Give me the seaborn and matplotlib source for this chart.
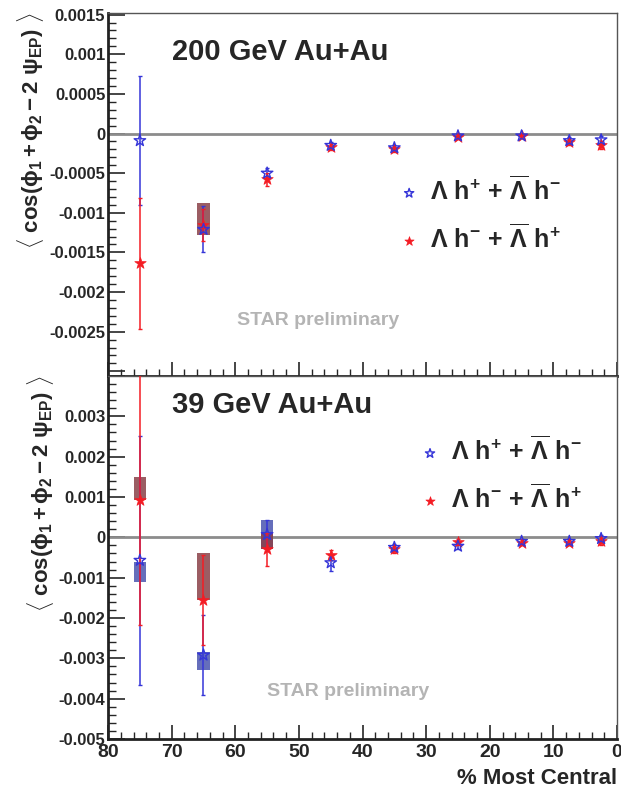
"""Lambda-hadron correlator vs centrality, 200 GeV and 39 GeV Au+Au (STAR preliminary)."""
import numpy as np
import pandas as pd
import matplotlib
matplotlib.use("Agg")
import matplotlib.pyplot as plt
import seaborn as sns
from matplotlib.ticker import MultipleLocator, FuncFormatter

# ---- data ----
centrality = [75, 65, 55, 45, 35, 25, 15, 7.5, 2.5]

top_os_y = [-0.00009, -0.00121, -0.00050, -0.00015, -0.00018, -0.00003, -0.00003, -0.00009, -0.00008]
top_os_err = [0.00081, 0.00029, 0.00007, 0.00004, 0.00003, 0.00003, 0.00003, 0.00004, 0.00005]
top_ss_y = [-0.00164, -0.00115, -0.00058, -0.00017, -0.00020, -0.00004, -0.00003, -0.00011, -0.00014]
top_ss_err = [0.00083, 0.00020, 0.00008, 0.00004, 0.00003, 0.00003, 0.00003, 0.00004, 0.00005]

bot_os_y = [-0.00057, -0.00292, 0.00007, -0.00063, -0.00025, -0.00022, -0.00010, -0.00010, -0.00003]
bot_os_err = [0.00309, 0.00100, 0.00035, 0.00020, 0.00008, 0.00008, 0.00007, 0.00007, 0.00008]
bot_ss_y = [0.00093, -0.00155, -0.00030, -0.00043, -0.00030, -0.00012, -0.00013, -0.00013, -0.00010]
bot_ss_err = [0.00310, 0.00111, 0.00040, 0.00012, 0.00008, 0.00008, 0.00007, 0.00007, 0.00008]

# systematic boxes: centre, low edge, high edge
top_ss_box_x = [65]
top_ss_box_lo = [-0.00128]
top_ss_box_hi = [-0.00088]
top_os_box_x = []
top_os_box_lo = []
top_os_box_hi = []

bot_os_box_x = [75, 65, 55]
bot_os_box_lo = [-0.00111, -0.00328, -0.00030]
bot_os_box_hi = [-0.00060, -0.00285, 0.00044]
bot_ss_box_x = [75, 65, 55]
bot_ss_box_lo = [0.00093, -0.00155, -0.00028]
bot_ss_box_hi = [0.00150, -0.00038, 0.00010]

OS_LABEL = r"$\mathbf{\Lambda\ h^{+}\,+\,\overline{\Lambda}\ h^{-}}$"
SS_LABEL = r"$\mathbf{\Lambda\ h^{-}\,+\,\overline{\Lambda}\ h^{+}}$"
YLABEL = r"$\mathbf{\langle\ cos(\phi_{1} + \phi_{2} - 2\ \psi_{EP})\ \rangle}$"

BLUE = "#3535d8"
RED = "#f41c24"
BLUE_BOX = "#4a55b0"
RED_BOX = "#8a4048"

sns.set_theme(style="ticks")
plt.rcParams["font.family"] = ["Liberation Sans", "DejaVu Sans"]
plt.rcParams["mathtext.fontset"] = "custom"
plt.rcParams["mathtext.rm"] = "Liberation Sans"
plt.rcParams["mathtext.bf"] = "Liberation Sans:bold"
plt.rcParams["mathtext.it"] = "Liberation Sans:italic"


def panel(ax, os_y, os_err, ss_y, ss_err, os_box, ss_box, ylim, major, hide_label,
          title, title_xy, star_xy, leg_anchor):
    df = pd.DataFrame({"cent": centrality * 2,
                       "val": os_y + ss_y,
                       "err": os_err + ss_err,
                       "pair": [OS_LABEL] * len(centrality) + [SS_LABEL] * len(centrality)})
    ax.axhline(0, color="#8c8c8c", lw=2, zorder=1)
    for (bx, lo, hi), col in ((os_box, BLUE_BOX), (ss_box, RED_BOX)):
        if bx:
            ax.bar(bx, np.array(hi) - np.array(lo), bottom=lo, width=2.0,
                   color=col, alpha=0.85, zorder=2, linewidth=0)
    for pair, col in ((OS_LABEL, BLUE), (SS_LABEL, RED)):
        d = df[df.pair == pair]
        ax.errorbar(d.cent, d.val, yerr=d.err, fmt="none", ecolor=col, elinewidth=1.1,
                    capsize=1.5, capthick=1, zorder=3)
    sns.scatterplot(data=df[df.pair == SS_LABEL], x="cent", y="val", ax=ax, marker="*",
                    s=75, color=RED, edgecolor=RED, linewidth=0.5, zorder=4,
                    label=SS_LABEL, legend=False)
    sns.scatterplot(data=df[df.pair == OS_LABEL], x="cent", y="val", ax=ax, marker="*",
                    s=75, facecolor="none", edgecolor=BLUE, linewidth=1.0, zorder=5,
                    label=OS_LABEL, legend=False)
    ax.set_xlim(80, 0)
    ax.set_ylim(*ylim)
    ax.yaxis.set_major_locator(MultipleLocator(major))
    ax.yaxis.set_minor_locator(MultipleLocator(major / 5))

    def fmt(v, p):
        if abs(v - hide_label) < 1e-9:
            return ""
        return "0" if abs(v) < 1e-12 else f"{v:g}"
    ax.yaxis.set_major_formatter(FuncFormatter(fmt))
    ax.xaxis.set_major_locator(MultipleLocator(10))
    ax.xaxis.set_minor_locator(MultipleLocator(2))
    ax.tick_params(axis="both", which="both", direction="in", top=False, right=False)
    ax.tick_params(axis="y", which="major", length=12, width=1.2, labelsize=12, pad=2)
    ax.tick_params(axis="y", which="minor", length=6, width=1)
    ax.tick_params(axis="x", which="major", length=10, width=1.2, labelsize=14)
    ax.tick_params(axis="x", which="minor", length=5, width=1)
    for lab in ax.get_yticklabels() + ax.get_xticklabels():
        lab.set_fontweight("bold")
    for s in ("left", "bottom"):
        ax.spines[s].set_linewidth(2)
        ax.spines[s].set_color("#222222")
    for s in ("right", "top"):
        ax.spines[s].set_linewidth(1)
        ax.spines[s].set_color("#555555")
    ax.set_ylabel(YLABEL, fontsize=16, loc="top", labelpad=2)
    ax.set_xlabel("")
    ax.text(*title_xy, title, transform=ax.transAxes, fontsize=21, fontweight="bold",
            ha="left", va="center")
    ax.text(star_xy[0], star_xy[1], "STAR preliminary", transform=ax.transAxes,
            fontsize=14, fontweight="bold", color="#b4b4b4", ha="left", va="center")
    h, l = ax.get_legend_handles_labels()
    order = [l.index(OS_LABEL), l.index(SS_LABEL)]
    ax.legend([h[i] for i in order], [l[i] for i in order], loc="center left",
              bbox_to_anchor=leg_anchor, frameon=False, fontsize=18, handletextpad=0.35,
              handlelength=1.0, borderpad=0, borderaxespad=0,
              labelspacing=0.75, markerscale=0.8)


fig = plt.figure(figsize=(6.21, 7.90), dpi=100)
ax_top = fig.add_axes([0.174, 0.524, 0.8196, 0.4595])
ax_bot = fig.add_axes([0.174, 0.0646, 0.8196, 0.4594])

panel(ax_top, top_os_y, top_os_err, top_ss_y, top_ss_err,
      (top_os_box_x, top_os_box_lo, top_os_box_hi),
      (top_ss_box_x, top_ss_box_lo, top_ss_box_hi),
      (-0.00306, 0.00152), 0.0005, -0.003, "200 GeV Au+Au", (0.126, 0.893), (0.253, 0.154),
      (0.567, 0.446))
panel(ax_bot, bot_os_y, bot_os_err, bot_ss_y, bot_ss_err,
      (bot_os_box_x, bot_os_box_lo, bot_os_box_hi),
      (bot_ss_box_x, bot_ss_box_lo, bot_ss_box_hi),
      (-0.005, 0.004), 0.001, 0.004, "39 GeV Au+Au", (0.126, 0.92), (0.312, 0.13),
      (0.608, 0.729))
ax_top.tick_params(axis="x", labelbottom=False)
fig.text(0.993, 0.015, "% Most Central", fontsize=16, fontweight="bold",
         ha="right", va="center")

fig.savefig("out.png", dpi=100)
